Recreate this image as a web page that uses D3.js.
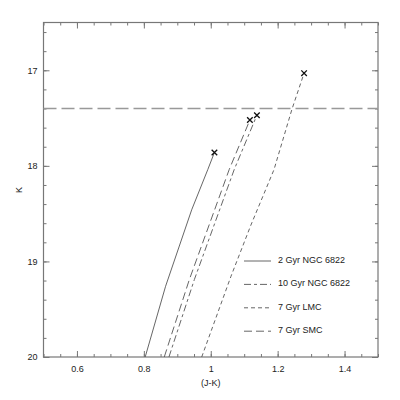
<!DOCTYPE html>
<meta charset="utf-8">
<style>
  html, body { margin: 0; background: #fff; }
  svg text { font-family: "Liberation Sans", Arial, sans-serif; fill: #222; }
</style>
<body>
<script src="https://cdn.jsdelivr.net/npm/d3@7"></script>
<script>
// isochrone tracks, (J-K) colour vs K magnitude, bottom to tip
var names = ["2 Gyr NGC 6822", "10 Gyr NGC 6822", "7 Gyr LMC", "7 Gyr SMC"];
var ngc2JK = [0.804, 0.865, 0.943, 0.991, 1.011];
var ngc2K  = [20.0, 19.26, 18.46, 18.04, 17.86];
var ngc10JK = [0.875, 0.951, 1.070, 1.138];
var ngc10K  = [20.0, 19.19, 18.04, 17.47];
var lmcJK = [0.973, 1.060, 1.120, 1.189, 1.243, 1.279];
var lmcK  = [20.0, 19.16, 18.62, 18.04, 17.405, 17.03];
var smcJK = [0.861, 0.936, 1.055, 1.117];
var smcK  = [20.0, 19.19, 18.04, 17.52];
var trgbK = 17.40;
var xTicks = [0.6, 0.8, 1, 1.2, 1.4];
var yTicks = [17, 18, 19, 20];

var W = 400, H = 400;
var x = d3.scaleLinear().domain([0.5, 1.5]).range([43.5, 378]);
var y = d3.scaleLinear().domain([16.5, 20]).range([22.5, 357]);

var svg = d3.select("body").append("svg").attr("width", W).attr("height", H);

var axisCol = "#777";
var xMinor = d3.range(0, 21).map(function (i) { return +(0.5 + i * 0.05).toFixed(2); });
var yMinor = d3.range(0, 18).map(function (i) { return +(16.6 + i * 0.2).toFixed(1); });

function styleAxis(g) {
  g.select(".domain").remove();
  g.selectAll("line").attr("stroke", axisCol);
  g.selectAll("text").style("font-size", "9px").attr("fill", "#222");
}

// minor ticks on all four sides
svg.append("g").attr("transform", "translate(0," + y(20) + ")")
  .call(d3.axisBottom(x).tickValues(xMinor).tickSize(-3).tickFormat("")).call(styleAxis);
svg.append("g").attr("transform", "translate(0," + y(16.5) + ")")
  .call(d3.axisTop(x).tickValues(xMinor).tickSize(-3).tickFormat("")).call(styleAxis);
svg.append("g").attr("transform", "translate(" + x(0.5) + ",0)")
  .call(d3.axisLeft(y).tickValues(yMinor).tickSize(-3).tickFormat("")).call(styleAxis);
svg.append("g").attr("transform", "translate(" + x(1.5) + ",0)")
  .call(d3.axisRight(y).tickValues(yMinor).tickSize(-3).tickFormat("")).call(styleAxis);

// major ticks
svg.append("g").attr("transform", "translate(0," + y(20) + ")")
  .call(d3.axisBottom(x).tickValues(xTicks).tickSize(-6).tickPadding(9).tickFormat(d3.format("~g"))).call(styleAxis);
svg.append("g").attr("transform", "translate(0," + y(16.5) + ")")
  .call(d3.axisTop(x).tickValues(xTicks).tickSize(-6).tickFormat("")).call(styleAxis);
svg.append("g").attr("transform", "translate(" + x(0.5) + ",0)")
  .call(d3.axisLeft(y).tickValues(yTicks).tickSize(-6).tickPadding(6).tickFormat(d3.format("d"))).call(styleAxis);
svg.append("g").attr("transform", "translate(" + x(1.5) + ",0)")
  .call(d3.axisRight(y).tickValues(yTicks).tickSize(-6).tickFormat("")).call(styleAxis);

// frame
svg.append("rect")
  .attr("x", x(0.5)).attr("y", y(16.5))
  .attr("width", x(1.5) - x(0.5)).attr("height", y(20) - y(16.5))
  .attr("fill", "none").attr("stroke", axisCol).attr("stroke-width", 1.2);

// axis titles
svg.append("text").attr("x", x(1)).attr("y", 386)
  .attr("text-anchor", "middle").style("font-size", "9px").text("(J-K)");
svg.append("text").attr("transform", "translate(22," + 190 + ") rotate(-90)")
  .attr("text-anchor", "middle").style("font-size", "9px").text("K");

// tip of the RGB line
svg.append("line")
  .attr("x1", x(0.5)).attr("x2", x(1.5))
  .attr("y1", y(trgbK)).attr("y2", y(trgbK))
  .attr("stroke", "#999").attr("stroke-width", 1.4)
  .attr("stroke-dasharray", "13,5");

var series = [
  { name: names[0], jk: ngc2JK, k: ngc2K, dash: null },
  { name: names[1], jk: ngc10JK, k: ngc10K, dash: "7,3,3,3" },
  { name: names[2], jk: lmcJK, k: lmcK, dash: "4,3" },
  { name: names[3], jk: smcJK, k: smcK, dash: "8,4" }
];

var line = d3.line()
  .x(function (d) { return x(d[0]); })
  .y(function (d) { return y(d[1]); });

series.forEach(function (s) {
  var pts = s.jk.map(function (v, i) { return [v, s.k[i]]; });
  svg.append("path").datum(pts)
    .attr("d", line)
    .attr("fill", "none").attr("stroke", "#555").attr("stroke-width", 0.9)
    .attr("stroke-dasharray", s.dash);
  var tip = pts[pts.length - 1];
  svg.append("path")
    .attr("d", d3.symbol(d3.symbolX, 22)())
    .attr("transform", "translate(" + x(tip[0]) + "," + y(tip[1]) + ")")
    .attr("fill", "none").attr("stroke", "#111").attr("stroke-width", 1.3);
});

// legend
var leg = svg.append("g");
series.forEach(function (s, i) {
  var ly = 261 + i * 23.4;
  leg.append("line").attr("x1", 244).attr("x2", 271).attr("y1", ly).attr("y2", ly)
    .attr("stroke", "#555").attr("stroke-width", 0.9).attr("stroke-dasharray", s.dash);
  leg.append("text").attr("x", 278).attr("y", ly + 1).attr("dy", "0.1em")
    .style("font-size", "9px").text(s.name);
});
</script>
</body>
